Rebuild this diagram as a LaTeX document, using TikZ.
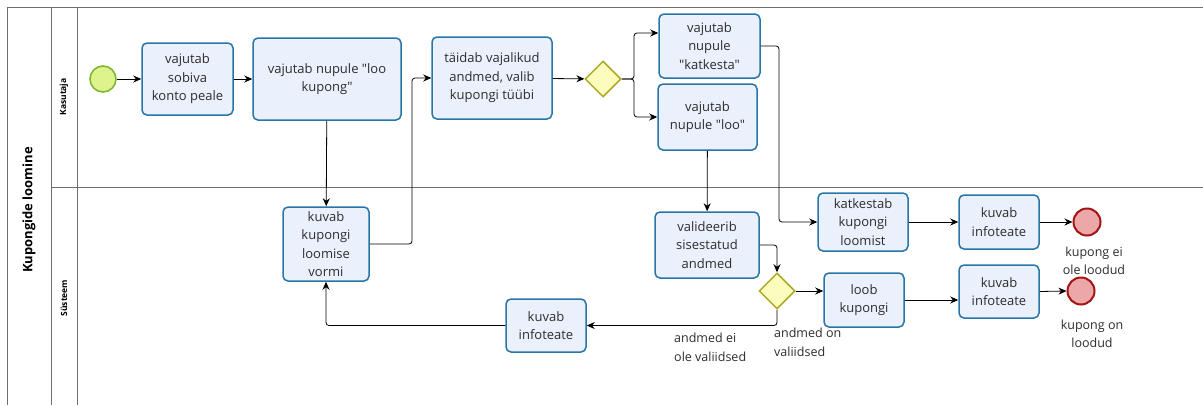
\documentclass[tikz,border=0pt]{standalone}
\usepackage{fontspec}
\setmainfont{Open Sans}[Ligatures=TeXOff]
\usetikzlibrary{arrows.meta,shapes.geometric}
\definecolor{taskfill}{RGB}{234,240,252}
\definecolor{taskline}{RGB}{40,118,168}
\definecolor{startfill}{RGB}{222,243,140}
\definecolor{startline}{RGB}{122,180,42}
\definecolor{endfill}{RGB}{236,168,168}
\definecolor{endline}{RGB}{165,20,20}
\definecolor{gwfill}{RGB}{252,252,188}
\definecolor{gwline}{RGB}{172,170,40}
\definecolor{txt}{RGB}{45,45,45}
\definecolor{frame}{RGB}{110,110,110}
\tikzset{
  task/.style={draw=taskline, fill=taskfill, line width=1.5pt, rounded corners=5pt,
    align=center, font=\fontsize{13}{18.5}\selectfont, text=txt, inner sep=0pt},
  startev/.style={circle, draw=startline, fill=startfill, line width=1.5pt,
    minimum size=26pt, inner sep=0pt},
  endev/.style={circle, draw=endline, fill=endfill, line width=2pt,
    minimum size=27pt, inner sep=0pt},
  gateway/.style={diamond, draw=gwline, fill=gwfill, line width=1.5pt,
    minimum width=36pt, minimum height=36pt, inner sep=0pt},
  flow/.style={draw=black, line width=0.8pt, rounded corners=3pt,
    -{Stealth[length=8pt,width=7pt]}},
  lbl/.style={align=left, font=\fontsize{12.5}{18.5}\selectfont, text=txt, inner sep=0pt},
  endlbl/.style={align=center, font=\fontsize{12.5}{18.5}\selectfont, text=txt, inner sep=0pt},
  lanebox/.style={draw=frame, line width=0.8pt},
}
\begin{document}
\begin{tikzpicture}[x=1pt,y=-1pt]
\useasboundingbox (0,0) rectangle (1203,405);
\fill[white] (0,0) rectangle (1203,405);

% pool and lane frame
\draw[lanebox] (1203,7) -- (7,7) -- (7,405);
\draw[lanebox] (51,7) -- (51,405);
\draw[lanebox] (77,7) -- (77,405);
\draw[lanebox] (51,187) -- (1203,187);
\node[rotate=90, font=\bfseries\fontsize{13}{15}\selectfont, text=black] (pool) at (29,210) {Kupongide loomine};
\node[rotate=90, font=\bfseries\fontsize{8.5}{10}\selectfont, text=black] (laneA) at (64,97) {Kasutaja};
\node[rotate=90, font=\bfseries\fontsize{8.5}{10}\selectfont, text=black] (laneB) at (64,298) {Süsteem};

% Kasutaja lane
\node[startev] (start) at (103,79) {};
\node[task, minimum width=91pt, minimum height=72pt] (t1) at (187.5,79) {vajutab\\sobiva\\konto peale};
\node[task, minimum width=148pt, minimum height=82pt] (t2) at (327,79) {vajutab nupule "loo\\kupong"};
\node[task, minimum width=120pt, minimum height=82pt] (t3) at (492,78) {täidab vajalikud\\andmed, valib\\kupongi tüübi};
\node[gateway] (g1) at (603,79) {};
\node[task, minimum width=101pt, minimum height=64pt] (t4) at (709.5,46) {vajutab\\nupule\\"katkesta"};
\node[task, minimum width=99pt, minimum height=66pt] (t5) at (707.5,117) {vajutab\\nupule "loo"};

% Süsteem lane
\node[task, minimum width=86pt, minimum height=74pt] (vorm) at (326,244) {kuvab\\kupongi\\loomise\\vormi};
\node[task, minimum width=104pt, minimum height=66pt] (valid) at (707,245) {valideerib\\sisestatud\\andmed};
\node[task, minimum width=90pt, minimum height=58pt] (katk) at (863,222) {katkestab\\kupongi\\loomist};
\node[task, minimum width=80pt, minimum height=54pt] (info1) at (999,222) {kuvab\\infoteate};
\node[endev] (end1) at (1087,222) {};
\node[endlbl] (end1l) at (1094,261) {kupong ei\\ole loodud};
\node[gateway] (g2) at (777,291) {};
\node[task, minimum width=80pt, minimum height=54pt] (loob) at (864,300) {loob\\kupongi};
\node[task, minimum width=80pt, minimum height=53pt] (info2) at (999,291.5) {kuvab\\infoteate};
\node[endev] (end2) at (1081,291) {};
\node[endlbl] (end2l) at (1092,334) {kupong on\\loodud};
\node[task, minimum width=80pt, minimum height=53pt] (info3) at (546,325.5) {kuvab\\infoteate};
\node[lbl, anchor=north west] (noval) at (674,333) {andmed ei\\ole valiidsed};
\node[lbl, anchor=north west] (yesval) at (774,328) {andmed on\\valiidsed};

% sequence flows
\draw[flow] (start) -- (t1);
\draw[flow] (t1) -- (t2);
\draw[flow] (t2) -- (vorm);
\draw[flow] (vorm.east) -- (412,244) |- (t3.west);
\draw[flow] (t3) -- (g1);
\draw[flow] (g1.east) -- (634,79) |- ([yshift=13pt]t4.west);
\draw[flow] (g1.east) -- (634,79) |- (t5.west);
\draw[flow] (t4.east) -- (779,46) |- (katk.west);
\draw[flow] (t5) -- (valid);
\draw[flow] (valid.east) -| (g2.north);
\draw[flow] (g2.east) -- (g2.east -| loob.west);
\draw[flow] (loob.east) -- (loob.east -| info2.west);
\draw[flow] (info2.east) -- (end2.west);
\draw[flow] (katk) -- (info1);
\draw[flow] (info1) -- (end1);
\draw[flow] (g2.south) |- (info3.east);
\draw[flow] (info3.west) -| (vorm.south);
\end{tikzpicture}
\end{document}
